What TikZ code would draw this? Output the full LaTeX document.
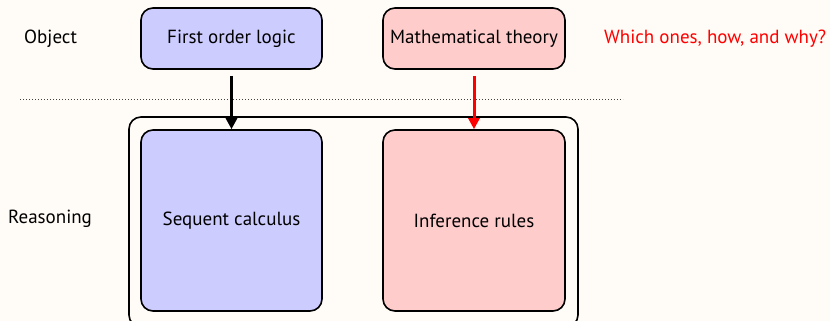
\documentclass[tikz,border=0pt]{standalone}
\usepackage{fontspec}
\setmainfont{PT Sans}
\usetikzlibrary{arrows.meta}
\definecolor{bgc}{RGB}{255,251,246}
\definecolor{bluef}{RGB}{204,204,255}
\definecolor{redf}{RGB}{255,204,204}
\begin{document}
\begin{tikzpicture}[x=1pt,y=-1pt,
  box/.style={draw=black, line width=1.6pt, rounded corners=12pt, inner sep=0pt, font=\fontsize{19}{22}\selectfont},
  lbl/.style={font=\fontsize{19}{22}\selectfont, inner sep=0pt},
  arr/.style={line width=3pt, -{Triangle[length=11pt,width=11pt]}}]
\clip (0,0) rectangle (830,321);
\fill[bgc] (0,0) rectangle (830,321);
\node[box, fill=bluef, minimum width=181pt, minimum height=61pt] (fol) at (231.5,38.5) {First order logic};
\node[box, fill=redf, minimum width=182pt, minimum height=61pt] (mt) at (474,38.5) {Mathematical theory};
\node[lbl, text=red, anchor=west] (q) at (604,38.5) {Which ones, how, and why?};
\node[lbl, anchor=west] (obj) at (24,38.5) {Object};
\node[lbl, anchor=west] (rea) at (8,219) {Reasoning};
\draw[line width=1pt, dotted, gray!50!black] (20,99) coordinate (d1) -- (623,99) coordinate (d2);
\node[draw=black, line width=1.6pt, rounded corners=12pt, minimum width=449pt, minimum height=210pt, inner sep=0pt] (outer) at (353.5,222) {};
\node[box, fill=bluef, minimum width=181pt, minimum height=181pt] (sc) at (231.5,220.5) {Sequent calculus};
\node[box, fill=redf, minimum width=182pt, minimum height=181pt] (ir) at (474,220.5) {Inference rules};
\draw[arr, black] ([yshift=-6pt]fol.south) -- (sc.north);
\draw[arr, red, -{Triangle[length=11pt,width=11pt,fill=red]}] ([yshift=-6pt]mt.south) -- (ir.north);
\end{tikzpicture}
\end{document}
